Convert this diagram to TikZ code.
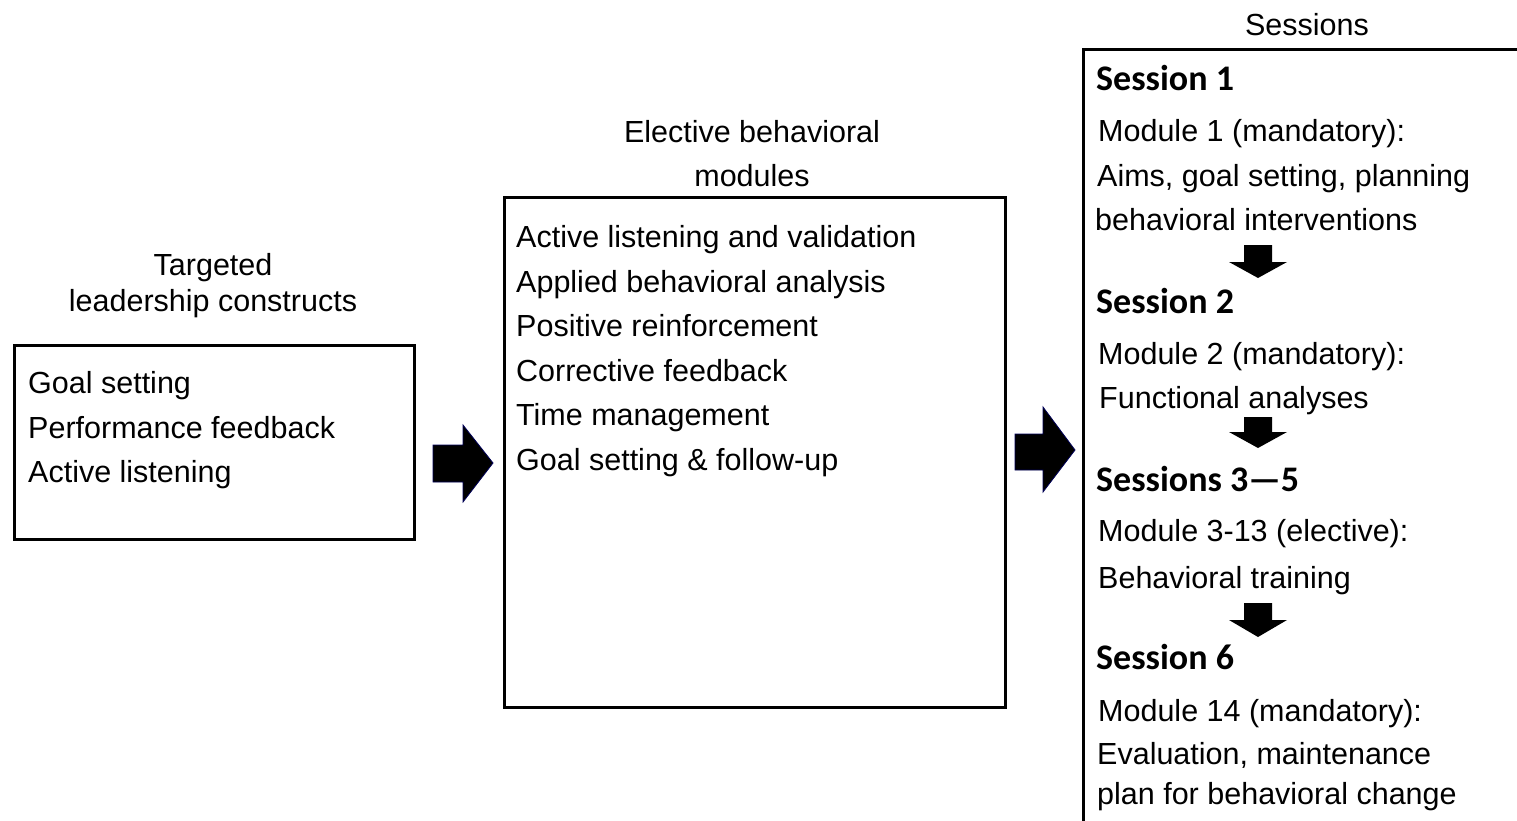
\documentclass[tikz,border=0pt]{standalone}
\usepackage{fontspec}
\setmainfont{Liberation Sans}
\newfontfamily\headfont{Carlito}
\usetikzlibrary{positioning}

\tikzset{
  frame/.style={line width=3pt},
  txt/.style={anchor=base west, inner sep=0pt, font=\fontsize{30.5}{36}\selectfont},
  ttl/.style={anchor=base, inner sep=0pt, font=\fontsize{30.5}{36}\selectfont},
  sess/.style={anchor=base west, inner sep=0pt, font=\headfont\bfseries\fontsize{36}{40}\selectfont},
  blockarrow/.style={fill=black, draw=blue!35!black, line width=0.8pt, line join=miter},
}

\begin{document}
\begin{tikzpicture}[x=1pt, y=-1pt]
\useasboundingbox (0,0) rectangle (1517,821);
\clip (0,0) rectangle (1517,821);

% left box
\node[ttl] (tgt1) at (213,275) {Targeted};
\node[ttl] (tgt2) at (213,311) {leadership constructs};
\draw[frame] (14,345) rectangle (414,539);
\node[txt] (lc1) at (28,393) {Goal setting};
\node[txt] (lc2) at (28,438) {Performance feedback};
\node[txt] (lc3) at (28,482) {Active listening};

% middle box
\node[ttl] (ebm1) at (752,143) {Elective behavioral};
\node[ttl] (ebm2) at (752,187) {modules};
\draw[frame] (504,198) rectangle (1005,707);
\node[txt] (em1) at (516,247) {Active listening and validation};
\node[txt] (em2) at (516,292) {Applied behavioral analysis};
\node[txt] (em3) at (516,336) {Positive reinforcement};
\node[txt] (em4) at (516,381) {Corrective feedback};
\node[txt] (em5) at (516,425) {Time management};
\node[txt] (em6) at (516,470) {Goal setting \& follow-up};

% right box, runs off the page
\node[ttl] (ses) at (1307,36) {Sessions};
\draw[frame] (1530,50) -- (1083,50) -- (1083,830);
\node[sess] (s1) at (1096,91) {Session 1};
\node[txt] (s1a) at (1098,142) {Module 1 (mandatory):};
\node[txt] (s1b) at (1097,187) {Aims, goal setting, planning};
\node[txt] (s1c) at (1095,230) {behavioral interventions};
\node[sess] (s2) at (1096,313) {Session 2};
\node[txt] (s2a) at (1098,364) {Module 2 (mandatory):};
\node[txt] (s2b) at (1099,408) {Functional analyses};
\node[sess] (s3) at (1096,491) {Sessions 3\textemdash5};
\node[txt] (s3a) at (1098,541) {Module 3-13 (elective):};
\node[txt] (s3b) at (1098,588) {Behavioral training};
\node[sess] (s4) at (1096,669) {Session 6};
\node[txt] (s4a) at (1098,721) {Module 14 (mandatory):};
\node[txt] (s4b) at (1097,764) {Evaluation, maintenance};
\node[txt] (s4c) at (1097,804) {plan for behavioral change};

% big arrows between the boxes
\filldraw[blockarrow] (433,445) -- (463,445) -- (463,425) -- (493,463)
  -- (463,502) -- (463,482) -- (433,482) -- cycle;
\filldraw[blockarrow] (1015,434) -- (1043,434) -- (1043,407) -- (1075,450)
  -- (1043,492) -- (1043,470) -- (1015,470) -- cycle;

% arrows between the sessions
\fill (1244,245) -- (1272,245) -- (1272,262) -- (1287,262) -- (1258,278)
  -- (1229,262) -- (1244,262) -- cycle;
\fill (1244,417) -- (1272,417) -- (1272,432) -- (1287,432) -- (1258,448)
  -- (1229,432) -- (1244,432) -- cycle;
\fill (1244,603) -- (1272,603) -- (1272,620) -- (1287,620) -- (1258,637)
  -- (1229,620) -- (1244,620) -- cycle;
\end{tikzpicture}
\end{document}
